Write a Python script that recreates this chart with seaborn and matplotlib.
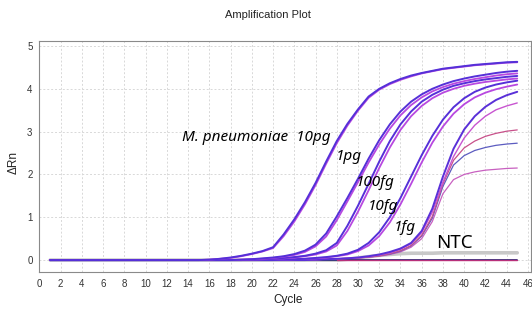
import numpy as np
import pandas as pd
import matplotlib
matplotlib.use('Agg')
import matplotlib.pyplot as plt
import matplotlib.font_manager as fm
import seaborn as sns

cycles = list(range(1, 46))

# dRn per cycle (1..45)
pg10_a = [0, 0, 0, 0, 0, 0, 0, 0, 0, 0, 0, 0, 0, 0, 0, 0.01, 0.03, 0.06, 0.10, 0.15,
          0.21, 0.30, 0.60, 0.95, 1.35, 1.80, 2.30, 2.78, 3.18, 3.52, 3.82, 4.00, 4.13, 4.23, 4.31,
          4.37, 4.42, 4.47, 4.50, 4.53, 4.56, 4.58, 4.60, 4.62, 4.63]
pg10_b = [0, 0, 0, 0, 0, 0, 0, 0, 0, 0, 0, 0, 0, 0, 0, 0.01, 0.03, 0.05, 0.09, 0.14,
          0.20, 0.28, 0.56, 0.90, 1.30, 1.75, 2.25, 2.73, 3.14, 3.49, 3.79, 3.98, 4.11, 4.21, 4.29,
          4.36, 4.41, 4.46, 4.49, 4.52, 4.55, 4.57, 4.59, 4.61, 4.62]
pg1_a = [0, 0, 0, 0, 0, 0, 0, 0, 0, 0, 0, 0, 0, 0, 0, 0, 0, 0, 0.01, 0.02,
         0.04, 0.06, 0.09, 0.14, 0.22, 0.36, 0.62, 1.02, 1.45, 1.90, 2.37, 2.80, 3.17, 3.47, 3.70,
         3.87, 4.00, 4.10, 4.18, 4.24, 4.29, 4.33, 4.37, 4.40, 4.42]
pg1_b = [0, 0, 0, 0, 0, 0, 0, 0, 0, 0, 0, 0, 0, 0, 0, 0, 0, 0, 0.01, 0.02,
         0.03, 0.05, 0.08, 0.12, 0.19, 0.32, 0.55, 0.93, 1.37, 1.82, 2.28, 2.70, 3.07, 3.38, 3.62,
         3.80, 3.94, 4.04, 4.12, 4.18, 4.23, 4.27, 4.31, 4.34, 4.36]
fg100_a = [0, 0, 0, 0, 0, 0, 0, 0, 0, 0, 0, 0, 0, 0, 0, 0, 0, 0, 0, 0.01,
           0.02, 0.03, 0.05, 0.07, 0.10, 0.15, 0.23, 0.40, 0.80, 1.27, 1.78, 2.30, 2.78, 3.17, 3.47,
           3.70, 3.86, 3.98, 4.07, 4.13, 4.18, 4.22, 4.25, 4.28, 4.30]
fg100_b = [0, 0, 0, 0, 0, 0, 0, 0, 0, 0, 0, 0, 0, 0, 0, 0, 0, 0, 0, 0.01,
           0.02, 0.03, 0.04, 0.06, 0.09, 0.13, 0.20, 0.34, 0.68, 1.13, 1.63, 2.15, 2.63, 3.04, 3.36,
           3.60, 3.78, 3.91, 4.00, 4.07, 4.12, 4.16, 4.19, 4.22, 4.24]
fg10_a = [0, 0, 0, 0, 0, 0, 0, 0, 0, 0, 0, 0, 0, 0, 0, 0, 0, 0, 0, 0,
          0, 0, 0.01, 0.02, 0.03, 0.05, 0.07, 0.10, 0.15, 0.24, 0.40, 0.65, 1.00, 1.45, 1.95,
          2.45, 2.90, 3.28, 3.57, 3.78, 3.93, 4.03, 4.10, 4.15, 4.19]
fg10_b = [0, 0, 0, 0, 0, 0, 0, 0, 0, 0, 0, 0, 0, 0, 0, 0, 0, 0, 0, 0,
          0, 0, 0.01, 0.02, 0.03, 0.04, 0.06, 0.09, 0.13, 0.21, 0.34, 0.56, 0.88, 1.30, 1.78,
          2.28, 2.74, 3.12, 3.42, 3.64, 3.80, 3.91, 3.99, 4.05, 4.10]
fg1_a = [0, 0, 0, 0, 0, 0, 0, 0, 0, 0, 0, 0, 0, 0, 0, 0, 0, 0, 0, 0,
         0, 0, 0, 0, 0, 0.01, 0.02, 0.03, 0.04, 0.06, 0.09, 0.13, 0.19, 0.27, 0.40,
         0.68, 1.20, 1.95, 2.60, 3.05, 3.36, 3.58, 3.74, 3.85, 3.93]
fg1_b = [0, 0, 0, 0, 0, 0, 0, 0, 0, 0, 0, 0, 0, 0, 0, 0, 0, 0, 0, 0,
         0, 0, 0, 0, 0, 0.01, 0.02, 0.03, 0.04, 0.05, 0.08, 0.12, 0.17, 0.25, 0.38,
         0.64, 1.12, 1.82, 2.42, 2.85, 3.15, 3.36, 3.51, 3.60, 3.67]
low_a = [0, 0, 0, 0, 0, 0, 0, 0, 0, 0, 0, 0, 0, 0, 0, 0, 0, 0, 0, 0,
         0, 0, 0, 0, 0, 0.01, 0.02, 0.03, 0.04, 0.05, 0.07, 0.10, 0.15, 0.22, 0.34,
         0.58, 1.02, 1.78, 2.33, 2.62, 2.78, 2.89, 2.96, 3.01, 3.04]
low_b = [0, 0, 0, 0, 0, 0, 0, 0, 0, 0, 0, 0, 0, 0, 0, 0, 0, 0, 0, 0,
         0, 0, 0, 0, 0, 0.01, 0.02, 0.03, 0.04, 0.05, 0.07, 0.10, 0.14, 0.21, 0.33,
         0.56, 0.98, 1.72, 2.22, 2.44, 2.56, 2.63, 2.68, 2.71, 2.73]
low_c = [0, 0, 0, 0, 0, 0, 0, 0, 0, 0, 0, 0, 0, 0, 0, 0, 0, 0, 0, 0,
         0, 0, 0, 0, 0, 0.01, 0.02, 0.03, 0.04, 0.05, 0.07, 0.09, 0.13, 0.19, 0.30,
         0.50, 0.90, 1.55, 1.88, 2.00, 2.06, 2.10, 2.12, 2.14, 2.15]
ntc_gray = [0, 0, 0, 0, 0, 0, 0, 0, 0, 0, 0, 0, 0, 0, 0, 0, 0, 0, 0, 0,
            0, 0, 0, 0, 0, 0, 0, 0, 0.02, 0.05, 0.08, 0.11, 0.13, 0.15, 0.16,
            0.16, 0.16, 0.17, 0.17, 0.17, 0.17, 0.17, 0.17, 0.17, 0.17]
ntc_dark = [0, 0, 0, 0, 0, 0, 0, 0, 0, 0, 0, 0, 0, 0, 0, 0, 0, 0, 0, 0,
            0, 0, 0, 0, 0, 0, 0, 0, 0, 0, 0, 0, 0, 0, 0,
            0, 0, 0, 0, 0, 0, 0, 0, 0, 0]
ntc_pink = [0, 0, 0, 0, 0, 0, 0, 0, 0, 0, 0, 0, 0, 0, 0, 0, 0, 0, 0, 0,
            0, 0, 0, 0, 0, 0, 0, 0, 0, 0, 0, 0, 0, 0, 0,
            0, 0, 0, 0, 0, 0, 0, 0, 0, 0]

labels = ['M. pneumoniae  10pg', '1pg', '100fg', '10fg', '1fg']
label_pos = [(27.4, 2.87), (30.4, 2.41), (33.5, 1.82), (33.8, 1.26), (35.5, 0.75)]

sns.set_style('white')
names = {f.name for f in fm.fontManager.ttflist}
if 'Liberation Sans Narrow' in names:
    narrow = ['Liberation Sans Narrow', 'DejaVu Sans']
    tsize = 7.5
else:
    narrow = ['Liberation Sans', 'DejaVu Sans']
    tsize = 7

fig = plt.figure(figsize=(5.32, 3.12), dpi=100)
ax = fig.add_axes([0.0742, 0.128, 0.924, 0.741])

# draw order: baselines first, then curves
plots = [
    (ntc_gray, '#c8c8c8', 2.6),
    (ntc_dark, '#2c2c7a', 1.3),
    (low_c, '#c860c0', 0.9),
    (low_b, '#5c5cc0', 0.9),
    (low_a, '#c8508a', 0.9),
    (fg1_b, '#c855d0', 1.0),
    (fg1_a, '#5a30d8', 1.4),
    (fg10_b, '#b848e0', 1.3),
    (fg10_a, '#5530d8', 1.4),
    (fg100_b, '#b848e0', 1.3),
    (fg100_a, '#5530d8', 1.4),
    (pg1_b, '#b848e0', 1.3),
    (pg1_a, '#5530d8', 1.4),
    (pg10_b, '#b848e0', 1.3),
    (pg10_a, '#5530d8', 1.4),
]
for vals, col, lw in plots:
    sns.lineplot(x=cycles, y=vals, ax=ax, color=col, linewidth=lw)
# pink NTC sits on the baseline in the later cycles
sns.lineplot(x=cycles[27:], y=ntc_pink[27:], ax=ax, color='#b8307a', linewidth=1.0)

ax.set_xlim(0, 46.3)
ax.set_ylim(-0.28, 5.12)
ax.set_xticks(range(0, 47, 2))
ax.set_yticks(range(0, 6))
ax.grid(True, color='#d8d8d8', linestyle=(0, (2, 2)), linewidth=0.7)
ax.set_axisbelow(True)
for s in ax.spines.values():
    s.set_color('#8a8a8a')
    s.set_linewidth(0.8)
ax.tick_params(axis='both', length=3, width=0.6, color='#8a8a8a', pad=2, labelsize=tsize,
               labelcolor='#333333')
for t in ax.get_xticklabels() + ax.get_yticklabels():
    t.set_family(narrow)
ax.set_xlabel('')
ax.set_ylabel('')

fig.text(268 / 532, 1 - 15 / 312, 'Amplification Plot', ha='center', va='center',
         fontsize=8, family=narrow, color='#222222')
fig.text(288 / 532, 1 - 300 / 312, 'Cycle', ha='center', va='center',
         fontsize=8.5, family=narrow, color='#222222')
fig.text(14 / 532, 1 - 163 / 312, 'ΔRn', ha='center', va='center', rotation=90,
         fontsize=8.5, family=narrow, color='#222222')

for txt, (x, y) in zip(labels, label_pos):
    ax.text(x, y, txt, ha='right', va='center', fontsize=11, style='italic',
            family=['Noto Sans', 'DejaVu Sans'], color='black')
ax.text(37.4, 0.40, 'NTC', ha='left', va='center', fontsize=13.5,
        family=['Noto Sans', 'DejaVu Sans'], color='black')

fig.savefig('out.png', dpi=100)
